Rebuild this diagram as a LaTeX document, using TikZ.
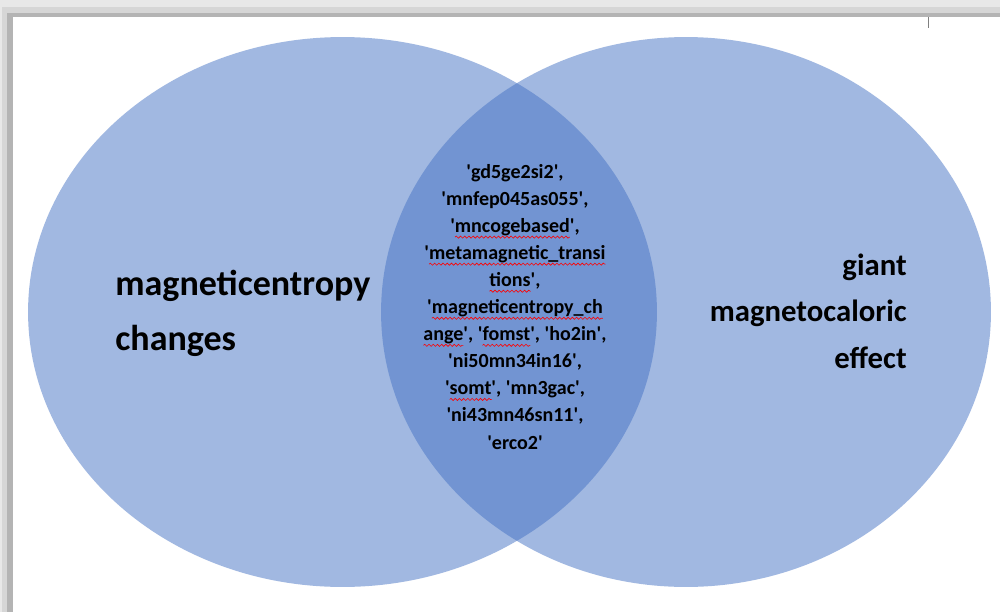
\documentclass[tikz,border=0pt]{standalone}
\usepackage{fontspec}
\setmainfont{Carlito}
\usetikzlibrary{calc,decorations.pathmorphing}

\definecolor{vennblue}{HTML}{4472C4}
\definecolor{framelight}{HTML}{E8E8E8}
\definecolor{framemid}{HTML}{D6D6D6}
\definecolor{framedark}{HTML}{B4B4B4}

% red wavy mark of the spell checker
\newlength\spellw
\newcommand\spellmark[1]{\settowidth\spellw{#1}#1\llap{\tikz[baseline = 0pt]{%
   \useasboundingbox (0pt, 0pt) rectangle (\spellw, 0pt);
   \draw[red, line width = 0.35pt, decorate,
      decoration = {snake, amplitude = 0.6pt, segment length = 2.4pt}]
      (0pt, -2.6pt) -- (\spellw, -2.6pt);}}}
\newcommand\q{\textquotesingle}

\begin{document}
\begin{tikzpicture}
      [x = 0.02cm, y = -0.02cm,
      venn/.style = {
         fill = vennblue,
         fill opacity = 0.5
      },
      biglabel/.style = {
         font = \bfseries\fontsize{20.5}{31}\selectfont,
         inner sep = 0pt
      },
      sidelabel/.style = {
         font = \bfseries\fontsize{17.5}{26.4}\selectfont,
         inner sep = 0pt
      },
      commonlabel/.style = {
         font = \bfseries\fontsize{11.4}{15.4}\selectfont,
         inner sep = 0pt
      }]

      \useasboundingbox (0, 0) rectangle (1000, 612);
      \fill[white] (0, 0) rectangle (1000, 612);

      % window frame
      \fill[framelight] (0, 0) rectangle (1000, 7);
      \fill[framemid] (0, 7) rectangle (1000, 13);
      \fill[framedark] (13, 13) rectangle (1000, 17);
      \fill[framelight] (0, 0) rectangle (2, 612);
      \fill[framemid] (2, 7) rectangle (7, 612);
      \fill[framedark] (7, 13) rectangle (13, 612);
      \draw[gray, line width = 0.02cm] (928, 17) -- (928, 28);

      \fill[venn] (342.5, 312) ellipse [x radius = 6.29cm, y radius = 5.5cm];
      \fill[venn] (686, 312) ellipse [x radius = 6.1cm, y radius = 5.5cm];

      \node[biglabel, anchor = base west, align = left] (lefttext) at (115, 350)
         {magneticentropy\\changes};
      \node[sidelabel, anchor = base east, align = right] (righttext) at (907, 368)
         {giant\\magnetocaloric\\effect};
      \node[commonlabel, anchor = base, align = center] (common) at (515, 449)
         {\q gd5ge2si2\q,\\
          \q mnfep045as055\q,\\
          \q\spellmark{mncogebased}\q,\\
          \q\spellmark{metamagnetic\_transi}\\
          \spellmark{tions}\q,\\
          \q\spellmark{magneticentropy\_ch}\\
          \spellmark{ange}\q, \q\spellmark{fomst}\q, \q ho2in\q,\\
          \q ni50mn34in16\q,\\
          \q\spellmark{somt}\q, \q mn3gac\q,\\
          \q ni43mn46sn11\q,\\
          \q erco2\q};

   \end{tikzpicture}
\end{document}
